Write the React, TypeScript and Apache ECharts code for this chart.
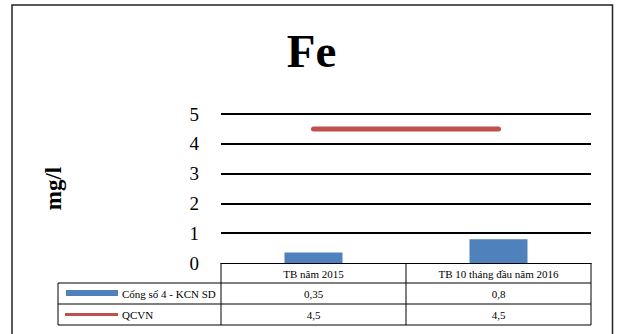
import React, { useEffect, useRef } from "react";
import * as echarts from "echarts";

const chartTitle = "Fe";
const unitLabel = "mg/l";
const categories = ["TB năm 2015", "TB 10 tháng đầu năm 2016"];
const seriesNames = ["Cống số 4 - KCN SD", "QCVN"];
const drainValues = [0.35, 0.8];
const limitValues = [4.5, 4.5];
const yMin = 0;
const yMax = 5;
const yInterval = 1;

const BLUE = "#4F81BD";
const RED = "#C0504D";
const FONT = "'Liberation Serif', 'Times New Roman', 'DejaVu Serif', serif";

const fmt = (v: number) => String(v).replace(".", ",");

export default function App() {
  const ref = useRef<HTMLDivElement>(null);
  useEffect(() => {
    if (!ref.current) return;
    const chart = echarts.init(ref.current, null, { renderer: "svg" });
    const gridLeft = 221;
    const gridRight = 591;
    const gridTop = 114;
    const gridBottom = 263;
    chart.setOption({
      animation: false,
      backgroundColor: "#fff",
      textStyle: { fontFamily: FONT },
      title: {
        text: chartTitle,
        left: "center",
        top: 27,
        padding: 0,
        textStyle: { fontFamily: FONT, fontSize: 47, fontWeight: "bold", color: "#000" },
      },
      grid: { left: gridLeft, right: 623 - gridRight, top: gridTop, bottom: 334 - gridBottom },
      xAxis: {
        type: "category",
        data: categories,
        axisLine: { show: true, lineStyle: { color: "#000", width: 1 } },
        axisTick: { show: false },
        axisLabel: { color: "#000", fontSize: 11, fontFamily: FONT, margin: 5, interval: 0 },
      },
      yAxis: {
        type: "value",
        min: yMin,
        max: yMax,
        interval: yInterval,
        name: unitLabel,
        nameLocation: "middle",
        nameRotate: 90,
        nameGap: 156,
        nameTextStyle: { fontFamily: FONT, fontSize: 23, fontWeight: "bold", color: "#000" },
        axisLine: { show: false },
        axisTick: { show: false },
        axisLabel: { color: "#000", fontSize: 19, fontFamily: FONT, margin: 22 },
        splitLine: {
          show: true,
          lineStyle: { color: "#000", width: 2 },
          showMinLine: false,
        },
      },
      series: [
        {
          name: seriesNames[0],
          type: "bar",
          data: drainValues,
          barWidth: 58,
          itemStyle: { color: BLUE },
        },
        {
          name: seriesNames[1],
          type: "line",
          data: limitValues,
          showSymbol: false,
          symbol: "none",
          lineStyle: { color: RED, width: 5, cap: "round" },
          itemStyle: { color: RED },
        },
      ],
    });

    const centers = categories.map((c) => chart.convertToPixel({ xAxisIndex: 0 }, c) as number);
    const colSplit = (centers[0] + centers[1]) / 2;
    const tableLeft = 58;
    const row1Top = 283;
    const row2Top = 304;
    const tableBottom = 325;
    const line = (x1: number, y1: number, x2: number, y2: number) => ({
      type: "line",
      shape: { x1, y1, x2, y2 },
      style: { stroke: "#000", lineWidth: 1 },
      silent: true,
    });
    const cellText = (text: string, x: number, y: number, align = "center") => ({
      type: "text",
      x,
      y,
      style: {
        text,
        fill: "#000",
        fontSize: 11,
        fontFamily: FONT,
        align,
        verticalAlign: "middle",
      },
      silent: true,
    });
    const graphics: any[] = [
      {
        type: "rect",
        shape: { x: 12, y: 5, width: 600.5, height: 345 },
        style: { fill: "none", stroke: "#222", lineWidth: 1.5 },
        silent: true,
      },
      line(gridLeft, gridBottom, gridLeft, tableBottom),
      line(colSplit, gridBottom, colSplit, tableBottom),
      line(gridRight, gridBottom, gridRight, tableBottom),
      line(tableLeft, row1Top, gridRight, row1Top),
      line(tableLeft, row2Top, gridRight, row2Top),
      line(tableLeft, tableBottom, gridRight, tableBottom),
      line(tableLeft, row1Top, tableLeft, tableBottom),
      {
        type: "rect",
        shape: { x: 66, y: 290, width: 52, height: 6 },
        style: { fill: BLUE },
        silent: true,
      },
      {
        type: "line",
        shape: { x1: 65, y1: 314.5, x2: 118, y2: 314.5 },
        style: { stroke: RED, lineWidth: 3 },
        silent: true,
      },
      cellText(seriesNames[0], 122, (row1Top + row2Top) / 2, "left"),
      cellText(seriesNames[1], 122, (row2Top + tableBottom) / 2, "left"),
    ];
    drainValues.forEach((v, i) => graphics.push(cellText(fmt(v), centers[i], (row1Top + row2Top) / 2)));
    limitValues.forEach((v, i) => graphics.push(cellText(fmt(v), centers[i], (row2Top + tableBottom) / 2)));
    chart.setOption({ graphic: graphics });

    return () => chart.dispose();
  }, []);
  return (
    <div
      ref={ref}
      style={{ position: "fixed", left: 0, top: 0, width: 623, height: 334, background: "#fff" }}
    />
  );
}
